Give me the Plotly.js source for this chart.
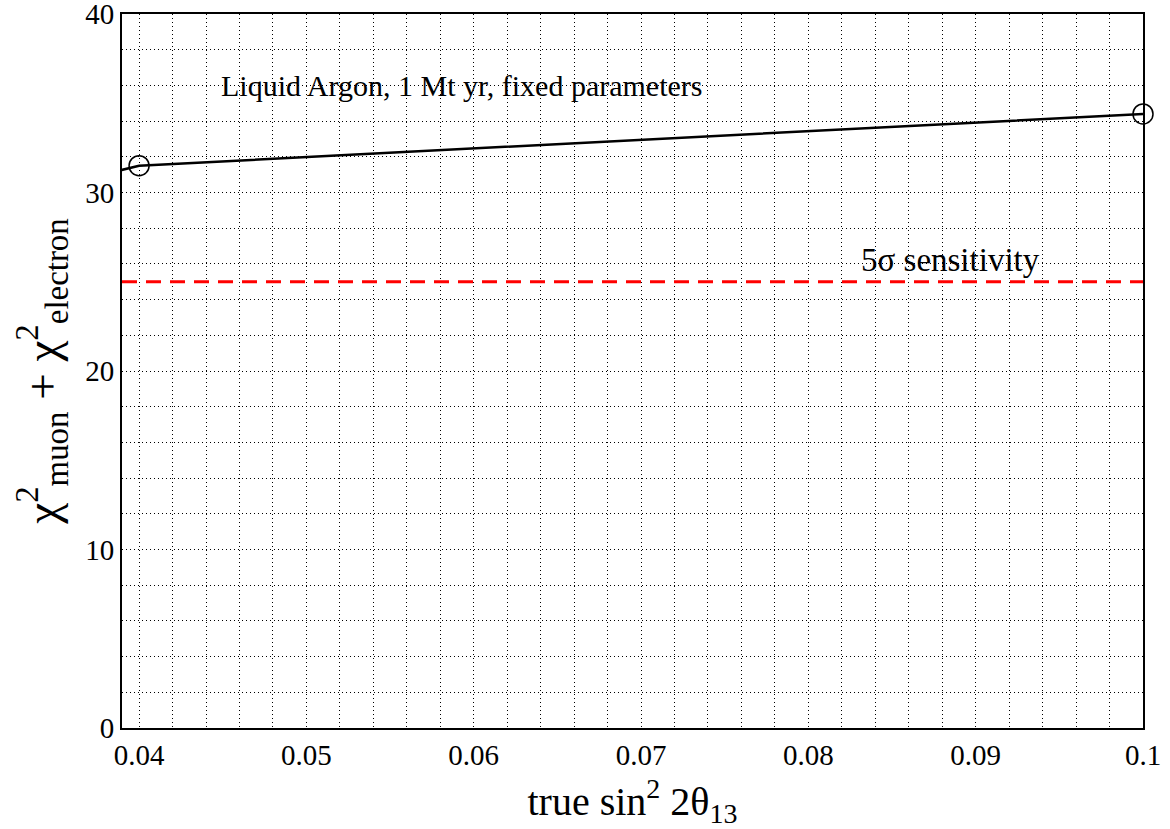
<!DOCTYPE html>
<html>
<head>
<meta charset="utf-8">
<script src="https://cdn.plot.ly/plotly-3.0.1.min.js"></script>
<style>html,body{margin:0;padding:0;background:#fff;}#chart{width:1170px;height:829px;}</style>
</head>
<body>
<div id="chart"></div>
<script>
// curve data (true sin^2 2theta13 vs chi^2 sum)
const curveX = [0.03, 0.04, 0.1];
const curveY = [29.2, 31.5, 34.4];
// marked points
const markX = [0.04, 0.1];
const markY = [31.5, 34.4];
// 5 sigma sensitivity level
const sensitivityLevel = 25;
// tick labels
const xTickVals = [0.04, 0.05, 0.06, 0.07, 0.08, 0.09, 0.1];
const xTickText = ['0.04', '0.05', '0.06', '0.07', '0.08', '0.09', '0.1'];
const yTickVals = [0, 10, 20, 30, 40];
const yTickText = ['0', '10', '20', '30', '40'];

const FONT = '"Liberation Serif", "Times New Roman", serif';
const gridStyle = {gridcolor: '#000', griddash: '1px,3px', gridwidth: 1};

const traces = [
  {x: curveX, y: curveY, mode: 'lines', type: 'scatter',
   line: {color: '#000', width: 2.5}, hoverinfo: 'skip', showlegend: false},
  {x: markX, y: markY, mode: 'markers', type: 'scatter',
   marker: {symbol: 'circle-open', size: 20, color: '#000', line: {width: 1.5, color: '#000'}},
   cliponaxis: false, showlegend: false}
];

const layout = {
  width: 1170, height: 829,
  margin: {l: 122, r: 27, t: 14, b: 101},
  paper_bgcolor: '#fff', plot_bgcolor: '#fff',
  font: {family: FONT, color: '#000', size: 28},
  showlegend: false,
  xaxis: Object.assign({
    range: [0.03898, 0.1], tickmode: 'array', tickvals: xTickVals, ticktext: xTickText,
    showgrid: true, zeroline: false, showline: true, linecolor: '#000', linewidth: 2, mirror: true,
    ticks: '', tickfont: {size: 29, family: FONT}, ticklabeloverflow: 'allow',
    minor: Object.assign({dtick: 0.002, tick0: 0, showgrid: true, ticks: ''}, gridStyle),
    title: {text: 'true sin<sup>2</sup> 2θ<sub>13</sub>', font: {size: 40, family: FONT}, standoff: 18},
    automargin: false
  }, gridStyle),
  yaxis: Object.assign({
    range: [0, 40], tickmode: 'array', tickvals: yTickVals, ticktext: yTickText,
    showgrid: true, zeroline: false, showline: true, linecolor: '#000', linewidth: 2, mirror: true,
    ticks: '', tickfont: {size: 29, family: FONT}, ticklabeloverflow: 'allow',
    minor: Object.assign({dtick: 2, tick0: 0, showgrid: true, ticks: ''}, gridStyle),
    title: {text: 'χ<sup>2</sup><sub>muon</sub> + χ<sup>2</sup><sub>electron</sub>', font: {size: 47, family: FONT}, standoff: 12},
    automargin: false
  }, gridStyle),
  shapes: [
    {type: 'line', xref: 'paper', x0: 0, x1: 1, yref: 'y', y0: sensitivityLevel, y1: sensitivityLevel,
     line: {color: '#ff0000', width: 3, dash: '15px,9px'}}
  ],
  annotations: [
    {text: 'Liquid Argon, 1 Mt yr, fixed parameters', x: 0.0448, y: 36, xref: 'x', yref: 'y',
     xanchor: 'left', yanchor: 'middle', showarrow: false, font: {size: 30, family: FONT}},
    {text: '5σ sensitivity', x: 0.0885, y: 26.2, xref: 'x', yref: 'y',
     xanchor: 'center', yanchor: 'middle', showarrow: false, font: {size: 33, family: FONT}}
  ]
};

Plotly.newPlot('chart', traces, layout, {displayModeBar: false, staticPlot: true});
</script>
</body>
</html>
